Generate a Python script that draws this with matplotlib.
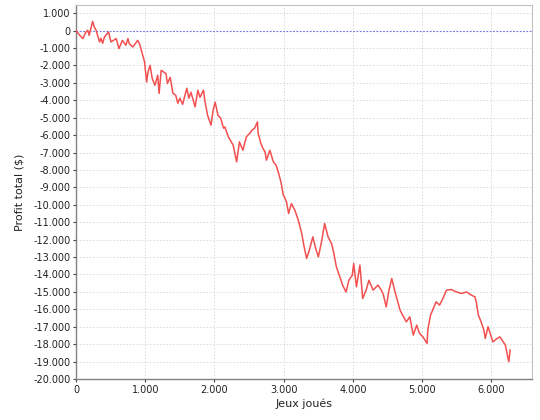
import matplotlib
matplotlib.use("Agg")
import matplotlib.pyplot as plt
from matplotlib.ticker import FuncFormatter, MultipleLocator

games = [0, 40, 100, 140, 170, 190, 240, 260, 290, 340, 360, 385, 410, 470, 505, 580, 620, 670, 720, 750,
         770, 820, 860, 890, 920, 950, 990, 1020, 1040, 1070, 1100, 1140, 1180, 1200, 1230, 1300, 1320, 1360,
         1400, 1440, 1470, 1500, 1540, 1600, 1630, 1660, 1720, 1760, 1790, 1840, 1860, 1900, 1950, 1980, 2010,
         2050, 2090, 2130, 2150, 2200, 2270, 2320, 2360, 2410, 2460, 2510, 2540, 2580, 2620, 2630, 2670, 2700,
         2730, 2750, 2800, 2850, 2890, 2920, 2960, 2990, 3040, 3070, 3110, 3160, 3210, 3260, 3290, 3330, 3370,
         3420, 3460, 3500, 3550, 3590, 3640, 3690, 3720, 3760, 3810, 3850, 3900, 3940, 3990, 4010, 4050, 4100,
         4140, 4190, 4230, 4290, 4360, 4410, 4440, 4480, 4520, 4560, 4600, 4680, 4730, 4770, 4820, 4870, 4920,
         4960, 5010, 5070, 5080, 5120, 5160, 5200, 5250, 5300, 5350, 5420, 5490, 5570, 5640, 5710, 5760, 5780,
         5810, 5850, 5890, 5910, 5950, 5980, 6020, 6070, 6120, 6170, 6200, 6250, 6270]
profit = [0, -210, -460, -100, 20, -270, 530, 250, 20, -650, -440, -730, -370, -80, -650, -460, -1030, -560,
          -840, -460, -750, -940, -730, -560, -790, -1230, -1800, -2950, -2390, -1990, -2740, -3140, -2560, -3610,
          -2280, -2470, -3040, -2680, -3600, -3710, -4170, -3880, -4230, -3310, -3880, -3540, -4380, -3420, -3830,
          -3420, -4000, -4860, -5430, -4570, -4110, -4860, -5030, -5600, -5530, -6100, -6580, -7540, -6390, -6870,
          -6100, -5890, -5720, -5600, -5240, -5890, -6480, -6770, -6960, -7440, -6870, -7540, -7730, -8110, -8690,
          -9390, -9830, -10500, -9930, -10310, -10880, -11650, -12320, -13080, -12600, -11840, -12490, -12990,
          -12030, -11070, -11840, -12220, -12720, -13560, -14140, -14610, -15010, -14330, -14040, -13370, -14710,
          -13460, -15380, -14900, -14330, -14900, -14610, -14900, -15190, -15860, -14900, -14230, -14900, -16050,
          -16430, -16720, -16430, -17480, -16910, -17380, -17580, -17960, -17190, -16330, -15950, -15570, -15760,
          -15360, -14900, -14860, -15000, -15090, -15000, -15190, -15280, -15570, -16330, -16720, -17190, -17670,
          -17000, -17380, -17870, -17710, -17580, -17870, -18050, -19010, -18340]

x_label = "Jeux joués"
y_label = "Profit total ($)"

fig = plt.figure(figsize=(5.4, 4.2), dpi=100)
ax = fig.add_axes([76 / 540, 1 - 379 / 420, (532 - 76) / 540, (379 - 5) / 420])

ax.plot(games, profit, color="#f25050", linewidth=1.1, zorder=3)
ax.axhline(0, color="#7070f0", linewidth=0.8, linestyle=(0, (1.5, 1.5)), zorder=2)

ax.set_xlim(0, 6585)
ax.set_ylim(-20000, 1470)
ax.xaxis.set_major_locator(MultipleLocator(1000))
ax.yaxis.set_major_locator(MultipleLocator(1000))

def fmt(v, pos):
    s = f"{abs(v):,.0f}".replace(",", ".")
    return ("-" + s) if v < 0 else s

ax.xaxis.set_major_formatter(FuncFormatter(fmt))
ax.yaxis.set_major_formatter(FuncFormatter(fmt))

ax.grid(True, color="#d8d8d8", linewidth=0.6, linestyle=(0, (2, 2)), zorder=1)
ax.set_axisbelow(True)

for side in ("top", "right"):
    ax.spines[side].set_color("#c0c0c0")
    ax.spines[side].set_linewidth(0.8)
for side in ("left", "bottom"):
    ax.spines[side].set_color("#808080")
    ax.spines[side].set_linewidth(1.0)

ax.tick_params(axis="both", labelsize=7, colors="#444444", length=2, width=0.8, pad=2,
               labelcolor="#222222")
ax.set_xlabel(x_label, fontsize=8, color="#222222", labelpad=3)
ax.set_ylabel(y_label, fontsize=8, color="#222222", labelpad=6)

fig.savefig("out.png", dpi=100, facecolor="white")
